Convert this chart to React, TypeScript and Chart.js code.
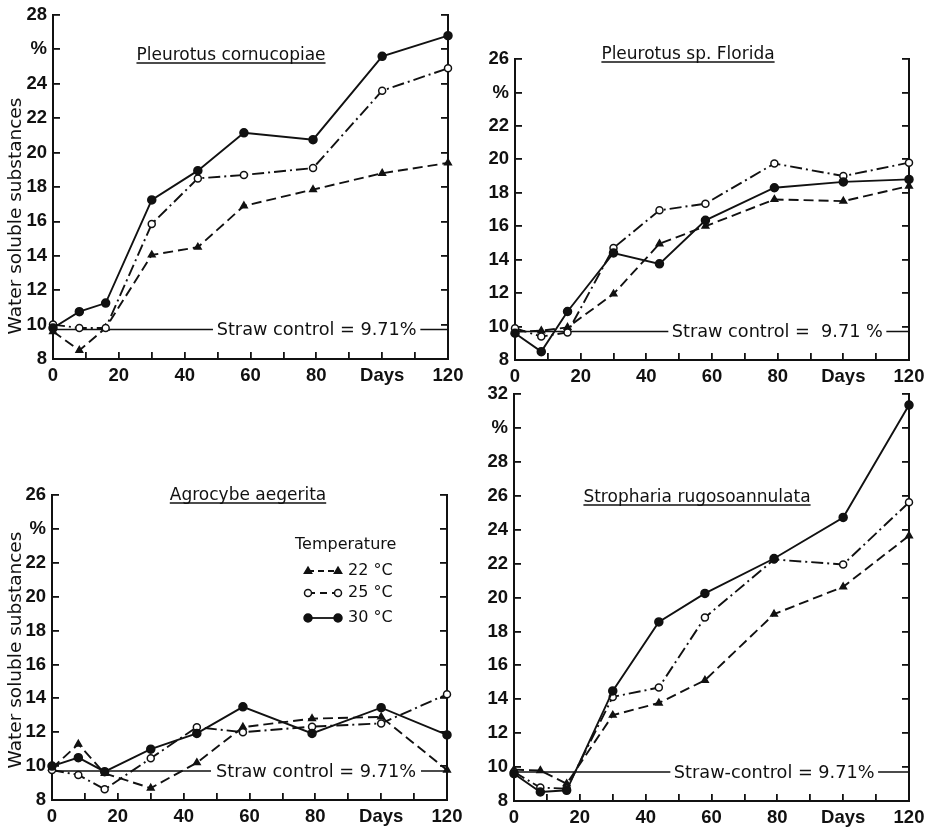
import React, { useEffect, useRef } from 'react';
import { Chart, registerables } from 'chart.js';

Chart.register(...registerables);

// ---------- data ----------
const DAYS = [0, 8, 16, 30, 44, 58, 79, 100, 120];
const X_TICK_LABELS: Record<number, string> = { 0: '0', 20: '20', 40: '40', 60: '60', 80: '80', 100: 'Days', 120: '120' };
const TEMPERATURES = ['22 °C', '25 °C', '30 °C'];
const STRAW_CONTROL = 9.71;
const Y_TITLE = 'Water soluble substances';
const LEGEND_TITLE = 'Temperature';

// Pleurotus cornucopiae
const CORNU_22 = [9.6, 8.5, 9.8, 14.05, 14.5, 16.9, 17.85, 18.8, 19.4];
const CORNU_25 = [10.0, 9.8, 9.8, 15.85, 18.5, 18.7, 19.1, 23.6, 24.9];
const CORNU_30 = [9.8, 10.75, 11.25, 17.25, 18.95, 21.15, 20.75, 25.6, 26.8];

// Pleurotus sp. Florida
const FLORIDA_22 = [9.7, 9.75, 9.95, 11.95, 14.95, 16.0, 17.6, 17.5, 18.4];
const FLORIDA_25 = [9.9, 9.4, 9.65, 14.7, 16.95, 17.35, 19.75, 19.0, 19.8];
const FLORIDA_30 = [9.6, 8.5, 10.9, 14.4, 13.75, 16.35, 18.3, 18.65, 18.8];

// Agrocybe aegerita
const AGRO_22 = [9.87, 11.3, 9.57, 8.7, 10.2, 12.3, 12.8, 12.9, 9.77];
const AGRO_25 = [9.77, 9.48, 8.63, 10.46, 12.3, 12.0, 12.33, 12.52, 14.24];
const AGRO_30 = [10.0, 10.5, 9.67, 11.0, 11.93, 13.5, 11.93, 13.45, 11.84];

// Stropharia rugosoannulata
const STRO_22 = [9.85, 9.8, 9.02, 13.06, 13.78, 15.12, 19.02, 20.63, 23.64];
const STRO_25 = [9.71, 8.79, 8.73, 14.14, 14.69, 18.82, 22.24, 21.95, 25.61];
const STRO_30 = [9.61, 8.53, 8.63, 14.49, 18.56, 20.24, 22.3, 24.72, 31.35];

// ---------- styling ----------
const INK = '#111';
const FONT = 'DejaVu Sans';
const TICK_FONT = '"Liberation Sans", sans-serif';

const SERIES_STYLE = [
  { dash: [10, 5], pointStyle: 'triangle', radius: 3.8, fill: INK },
  { dash: [12, 4, 2, 4], pointStyle: 'circle', radius: 3.5, fill: '#fff' },
  { dash: [] as number[], pointStyle: 'circle', radius: 4, fill: INK },
];

type Panel = {
  key: string;
  left: number; top: number; width: number; height: number;
  axisLeft: number; axisRight: number; padTop: number; axisBottom: number;
  yMax: number;
  title: string; titleX: number; titleY: number;
  strawText: string; gap: [number, number];
  series: number[][];
  yTitleY?: number;
  legend?: { x: number; y: number };
};

const PANELS: Panel[] = [
  {
    key: 'p1', left: 0, top: 0, width: 470, height: 385,
    axisLeft: 53, axisRight: 22, padTop: 15, axisBottom: 26, yMax: 28,
    title: 'Pleurotus cornucopiae', titleX: 231, titleY: 60,
    strawText: 'Straw control = 9.71%', gap: [48.6, 111.6],
    series: [CORNU_22, CORNU_25, CORNU_30], yTitleY: 216,
  },
  {
    key: 'p2', left: 470, top: 0, width: 466, height: 385,
    axisLeft: 45, axisRight: 27, padTop: 59, axisBottom: 25, yMax: 26,
    title: 'Pleurotus sp. Florida', titleX: 218, titleY: 59,
    strawText: 'Straw control =  9.71 %', gap: [46.7, 113.1],
    series: [FLORIDA_22, FLORIDA_25, FLORIDA_30],
  },
  {
    key: 'p3', left: 0, top: 400, width: 470, height: 427,
    axisLeft: 52, axisRight: 23, padTop: 95, axisBottom: 27, yMax: 26,
    title: 'Agrocybe aegerita', titleX: 248, titleY: 100,
    strawText: 'Straw control = 9.71%', gap: [48.3, 112.1],
    series: [AGRO_22, AGRO_25, AGRO_30], yTitleY: 250,
    legend: { x: 295, y: 145 },
  },
  {
    key: 'p4', left: 470, top: 385, width: 466, height: 442,
    axisLeft: 44, axisRight: 27, padTop: 9, axisBottom: 26, yMax: 32,
    title: 'Stropharia rugosoannulata', titleX: 227, titleY: 117,
    strawText: 'Straw-control = 9.71%', gap: [47.5, 110.6],
    series: [STRO_22, STRO_25, STRO_30],
  },
];

function drawMarker(ctx: CanvasRenderingContext2D, kind: number, x: number, y: number) {
  const st = SERIES_STYLE[kind];
  ctx.save();
  ctx.setLineDash([]);
  ctx.lineWidth = 1.5;
  ctx.strokeStyle = INK;
  ctx.fillStyle = st.fill;
  ctx.beginPath();
  if (st.pointStyle === 'triangle') {
    const r = st.radius;
    ctx.moveTo(x, y - r);
    ctx.lineTo(x + r * 0.95, y + r * 0.6);
    ctx.lineTo(x - r * 0.95, y + r * 0.6);
    ctx.closePath();
  } else {
    ctx.arc(x, y, st.radius, 0, Math.PI * 2);
  }
  ctx.fill();
  ctx.stroke();
  ctx.restore();
}

function makeDecor(p: Panel) {
  return {
    id: 'decor_' + p.key,
    afterDatasetsDraw(chart: any) {
      const ctx: CanvasRenderingContext2D = chart.ctx;
      const xs = chart.scales.x;
      const ys = chart.scales.y;
      ctx.save();
      ctx.fillStyle = INK;
      ctx.strokeStyle = INK;

      // panel title, underlined
      ctx.font = `17px "${FONT}"`;
      ctx.textAlign = 'center';
      ctx.textBaseline = 'alphabetic';
      ctx.fillText(p.title, p.titleX, p.titleY);
      const tw = ctx.measureText(p.title).width;
      ctx.lineWidth = 1.4;
      ctx.beginPath();
      ctx.moveTo(p.titleX - tw / 2, p.titleY + 3);
      ctx.lineTo(p.titleX + tw / 2, p.titleY + 3);
      ctx.stroke();

      // straw control label in the gap of the reference line
      const mid = (p.gap[0] + p.gap[1]) / 2;
      ctx.font = `17.7px "${FONT}"`;
      ctx.textBaseline = 'middle';
      ctx.fillText(p.strawText, xs.getPixelForValue(mid), ys.getPixelForValue(STRAW_CONTROL) + 1);

      // y axis title
      if (p.yTitleY !== undefined) {
        ctx.save();
        ctx.translate(16, p.yTitleY);
        ctx.rotate(-Math.PI / 2);
        ctx.font = `18.5px "${FONT}"`;
        ctx.textAlign = 'center';
        ctx.textBaseline = 'middle';
        ctx.fillText(Y_TITLE, 0, 0);
        ctx.restore();
      }

      // legend
      if (p.legend) {
        const { x, y } = p.legend;
        ctx.font = `16px "${FONT}"`;
        ctx.textAlign = 'left';
        ctx.textBaseline = 'middle';
        ctx.fillText(LEGEND_TITLE, x, y);
        const rowY = [y + 26, y + 48, y + 73];
        TEMPERATURES.forEach((t, k) => {
          const x1 = x + 13, x2 = x + 43;
          ctx.save();
          ctx.lineWidth = 1.8;
          ctx.setLineDash(k === 1 ? [7, 5] : k === 0 ? [6, 4] : []);
          ctx.beginPath();
          ctx.moveTo(x1, rowY[k]);
          ctx.lineTo(x2, rowY[k]);
          ctx.stroke();
          ctx.restore();
          drawMarker(ctx, k, x1, rowY[k]);
          drawMarker(ctx, k, x2, rowY[k]);
          ctx.fillText(t, x + 53, rowY[k]);
        });
      }
      ctx.restore();
    },
  };
}

function clearPadding(s: any) {
  s.paddingTop = 0;
  s.paddingBottom = 0;
  s.paddingLeft = 0;
  s.paddingRight = 0;
}

function buildConfig(p: Panel): any {
  const tickFont = { family: TICK_FONT, size: 18.5, weight: 'bold' };
  const gridOpts = { drawOnChartArea: false, drawTicks: true, tickLength: -7, color: INK, lineWidth: 1.8 };
  const border = { display: true, color: INK, width: 2 };

  const datasets: any[] = p.series.map((vals, k) => ({
    label: TEMPERATURES[k],
    data: DAYS.map((d, i) => ({ x: d, y: vals[i] })),
    borderColor: INK,
    borderWidth: 1.9,
    borderDash: SERIES_STYLE[k].dash,
    pointStyle: SERIES_STYLE[k].pointStyle,
    pointRadius: SERIES_STYLE[k].radius,
    pointBackgroundColor: SERIES_STYLE[k].fill,
    pointBorderColor: INK,
    pointBorderWidth: 1.5,
    tension: 0,
    clip: false,
    order: 3 - k,
  }));

  datasets.push({
    label: 'Straw control',
    data: [
      { x: 0, y: STRAW_CONTROL },
      { x: p.gap[0], y: STRAW_CONTROL },
      { x: (p.gap[0] + p.gap[1]) / 2, y: null },
      { x: p.gap[1], y: STRAW_CONTROL },
      { x: 120, y: STRAW_CONTROL },
    ],
    borderColor: INK,
    borderWidth: 1.5,
    pointRadius: 0,
    spanGaps: false,
    clip: false,
    order: 10,
  });

  return {
    type: 'line',
    data: { datasets },
    options: {
      animation: false,
      responsive: false,
      devicePixelRatio: 1,
      layout: { padding: { top: p.padTop, left: 0, right: 0, bottom: 0 } },
      plugins: { legend: { display: false }, tooltip: { enabled: false }, title: { display: false } },
      scales: {
        x: {
          type: 'linear', position: 'bottom', min: 0, max: 120,
          ticks: {
            stepSize: 10, autoSkip: false, maxRotation: 0, padding: 13, color: INK, font: tickFont,
            callback: (v: number) => X_TICK_LABELS[v] ?? '',
          },
          grid: gridOpts, border,
          afterFit: (s: any) => { s.height = p.axisBottom; clearPadding(s); },
        },
        y: {
          type: 'linear', position: 'left', min: 8, max: p.yMax,
          ticks: {
            stepSize: 2, padding: 13, color: INK, font: tickFont,
            callback: (v: number) => (v === p.yMax - 2 ? '%' : String(v)),
          },
          grid: gridOpts, border,
          afterFit: (s: any) => { s.width = p.axisLeft; clearPadding(s); },
        },
        y2: {
          type: 'linear', position: 'right', min: 8, max: p.yMax,
          ticks: { stepSize: 2, display: false },
          grid: gridOpts, border,
          afterFit: (s: any) => { s.width = p.axisRight; clearPadding(s); },
        },
      },
    },
    plugins: [makeDecor(p)],
  };
}

function PanelChart({ p }: { p: Panel }) {
  const ref = useRef<HTMLCanvasElement | null>(null);
  useEffect(() => {
    if (!ref.current) return;
    const chart = new Chart(ref.current, buildConfig(p));
    return () => chart.destroy();
  }, [p]);
  return (
    <canvas
      ref={ref}
      width={p.width}
      height={p.height}
      style={{ position: 'absolute', left: p.left, top: p.top, width: p.width, height: p.height }}
    />
  );
}

export default function App() {
  return (
    <div style={{ position: 'absolute', left: 0, top: 0, width: 936, height: 827, background: '#fff', overflow: 'hidden' }}>
      {PANELS.map((p) => (
        <PanelChart key={p.key} p={p} />
      ))}
    </div>
  );
}
